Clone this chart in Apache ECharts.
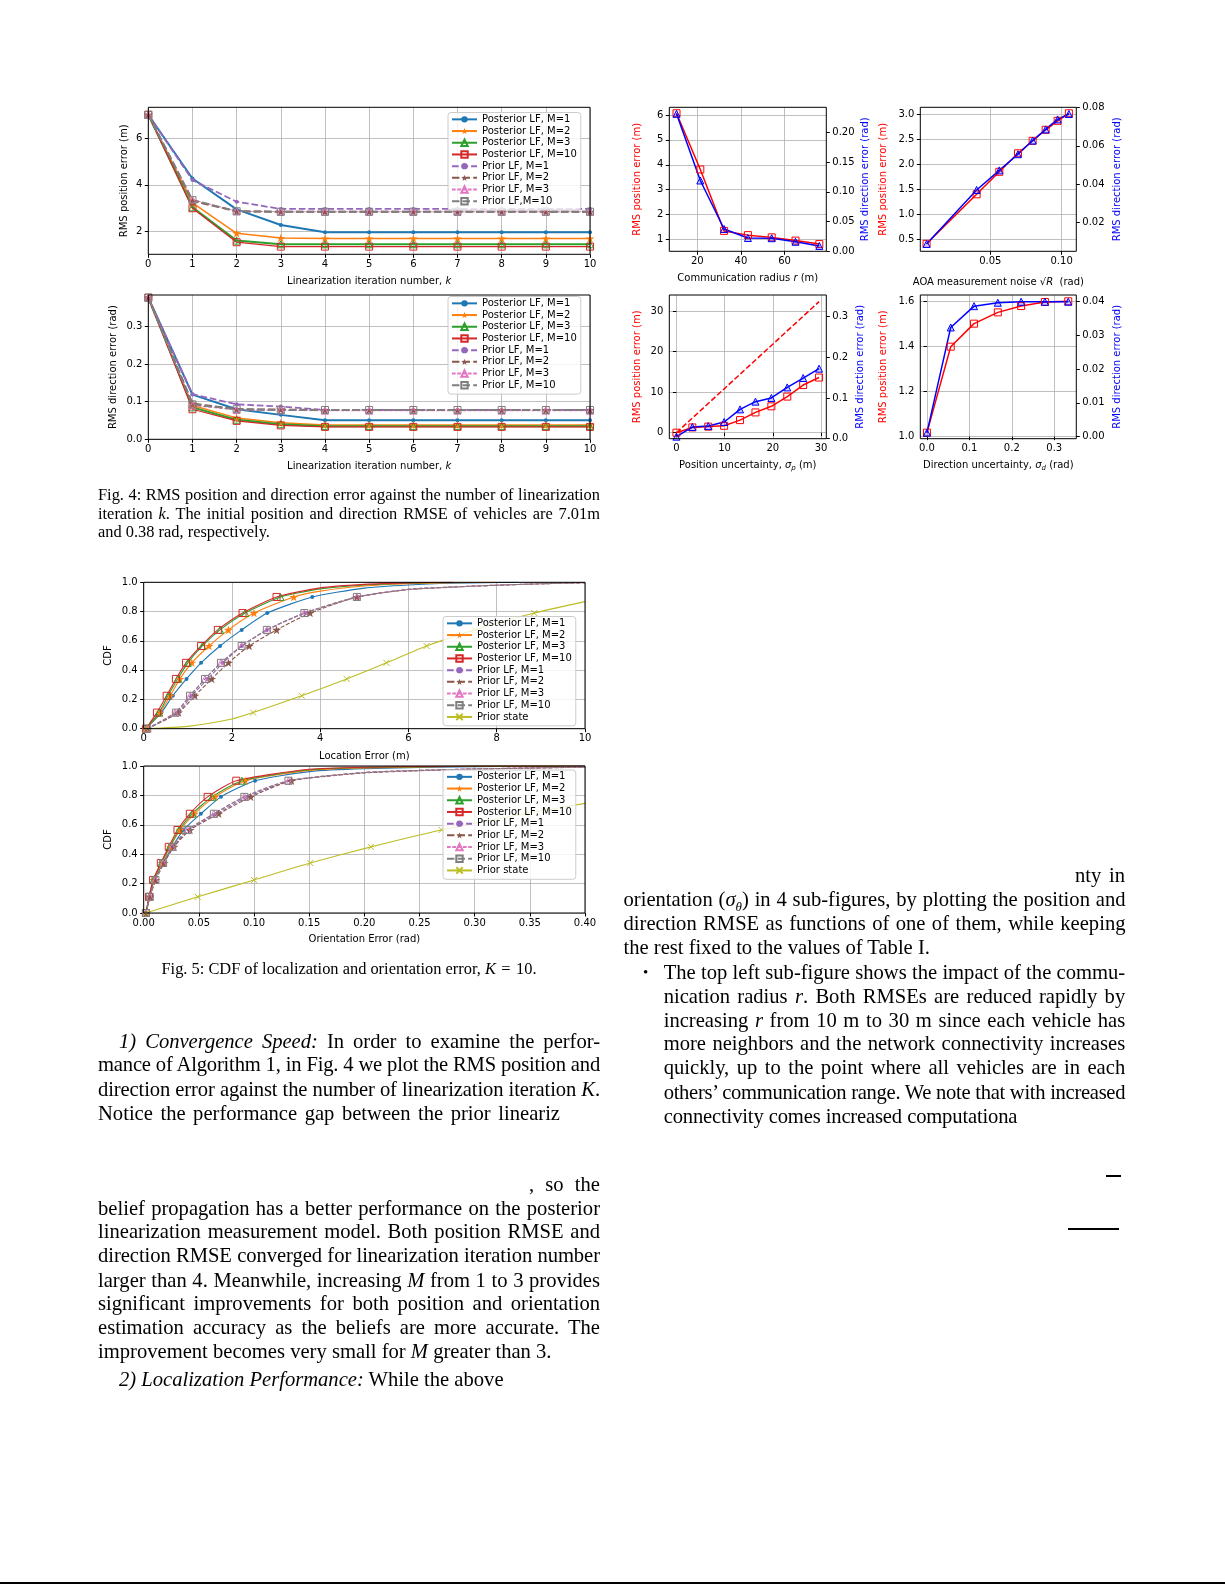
<!DOCTYPE html>
<html><head><meta charset="utf-8">
<script src="https://cdn.jsdelivr.net/npm/echarts@6/dist/echarts.min.js"></script>
<style>
html,body{margin:0;padding:0;background:#fff;}
#wrap{position:relative;width:1225px;height:1585px;overflow:hidden;background:#fff;}
#chart{position:absolute;left:0;top:0;width:1225px;height:1585px;}
.t{position:absolute;font-family:'Liberation Serif','Times New Roman',serif;font-size:20.6px;line-height:24px;white-space:nowrap;color:#000;}
.c{font-size:16.4px;line-height:18px;}
.j{text-align:justify;text-align-last:justify;}
.rule{position:absolute;background:#000;}
</style></head>
<body><div id="wrap"><div id="chart"></div>
<div class="t c j" style="left:98px;top:486px;width:502px">Fig. 4: RMS position and direction error against the number of linearization</div>
<div class="t c j" style="left:98px;top:504.5px;width:502px">iteration <i>k</i>. The initial position and direction RMSE of vehicles are 7.01m</div>
<div class="t c" style="left:98px;top:522.6px;">and 0.38 rad, respectively.</div>
<div class="t c" style="left:98px;top:960px;width:502px;text-align:center">Fig. 5: CDF of localization and orientation error, <i>K</i>&#8202; = &#8202;10.</div>

<div class="t j" style="left:119px;top:1029px;width:481px"><i>1) Convergence Speed:</i> In order to examine the perfor-</div>
<div class="t j" style="left:98px;top:1052px;width:502px">mance of Algorithm 1, in Fig. 4 we plot the RMS position and</div>
<div class="t j" style="left:98px;top:1076.5px;width:502px">direction error against the number of linearization iteration <i>K</i>.</div>
<div class="t j" style="left:98px;top:1101px;width:462px">Notice the performance gap between the prior lineariz</div>
<div class="t j" style="left:529px;top:1171.5px;width:71px">, so the</div>
<div class="t j" style="left:98px;top:1196px;width:502px">belief propagation has a better performance on the posterior</div>
<div class="t j" style="left:98px;top:1219px;width:502px">linearization measurement model. Both position RMSE and</div>
<div class="t j" style="left:98px;top:1243px;width:502px">direction RMSE converged for linearization iteration number</div>
<div class="t j" style="left:98px;top:1267.5px;width:502px">larger than 4. Meanwhile, increasing <i>M</i> from 1 to 3 provides</div>
<div class="t j" style="left:98px;top:1291px;width:502px">significant improvements for both position and orientation</div>
<div class="t j" style="left:98px;top:1315px;width:502px">estimation accuracy as the beliefs are more accurate. The</div>
<div class="t" style="left:98px;top:1339px;">improvement becomes very small for <i>M</i> greater than 3.</div>
<div class="t" style="left:119px;top:1366.6px;"><i>2) Localization Performance:</i> While the above</div>

<div class="t j" style="left:1075px;top:863px;width:50px">nty in</div>
<div class="t j" style="left:623.5px;top:886.5px;width:502px">orientation (<i>σ</i><sub style="font-size:13px;line-height:0"><i>θ</i></sub>) in 4 sub-figures, by plotting the position and</div>
<div class="t j" style="left:623.5px;top:910.8px;width:502px">direction RMSE as functions of one of them, while keeping</div>
<div class="t" style="left:623.5px;top:935px;">the rest fixed to the values of Table I.</div>
<div class="t" style="left:643px;top:960px;font-size:15px;">•</div>
<div class="t j" style="left:663.7px;top:960px;width:461.5px">The top left sub-figure shows the impact of the commu-</div>
<div class="t j" style="left:663.7px;top:983.6px;width:461.5px">nication radius <i>r</i>. Both RMSEs are reduced rapidly by</div>
<div class="t j" style="left:663.7px;top:1007.8px;width:461.5px">increasing <i>r</i> from 10 m to 30 m since each vehicle has</div>
<div class="t j" style="left:663.7px;top:1031px;width:461.5px">more neighbors and the network connectivity increases</div>
<div class="t j" style="left:663.7px;top:1055px;width:461.5px">quickly, up to the point where all vehicles are in each</div>
<div class="t j" style="left:663.7px;top:1079.6px;width:461.5px">others’ communication range. We note that with increased</div>
<div class="t j" style="left:663.7px;top:1103.8px;width:353.6px">connectivity comes increased computationa</div>
<div class="rule" style="left:1106px;top:1175px;width:14.7px;height:1.5px"></div>
<div class="rule" style="left:1067.7px;top:1228px;width:51px;height:1.5px"></div>
<div class="rule" style="left:0px;top:1582px;width:1225px;height:2px"></div>
</div>
<script>
// ---------------- DATA ----------------
const iters = [0,1,2,3,4,5,6,7,8,9,10];
const fig4aNames = ['Posterior LF, M=1','Posterior LF, M=2','Posterior LF, M=3','Posterior LF, M=10','Prior LF, M=1','Prior LF, M=2','Prior LF, M=3','Prior LF,M=10'];
const fig4bNames = ['Posterior LF, M=1','Posterior LF, M=2','Posterior LF, M=3','Posterior LF, M=10','Prior LF, M=1','Prior LF, M=2','Prior LF, M=3','Prior LF, M=10'];
const fig5Names = ['Posterior LF, M=1','Posterior LF, M=2','Posterior LF, M=3','Posterior LF, M=10','Prior LF, M=1','Prior LF, M=2','Prior LF, M=3','Prior LF, M=10','Prior state'];

// Fig 4 top: RMS position error (m)
const posPost1  = [7.01,4.27,2.94,2.27,1.96,1.96,1.96,1.96,1.96,1.96,1.96];
const posPost2  = [7.01,3.22,1.91,1.71,1.69,1.69,1.69,1.69,1.69,1.69,1.69];
const posPost3  = [7.01,3.03,1.60,1.44,1.44,1.44,1.44,1.44,1.44,1.44,1.44];
const posPost10 = [7.01,2.99,1.53,1.34,1.34,1.34,1.34,1.34,1.34,1.34,1.34];
const posPrior1 = [7.01,4.20,3.27,2.96,2.96,2.96,2.96,2.96,2.96,2.96,2.96];
const posPrior2 = [7.01,3.30,2.86,2.84,2.84,2.84,2.84,2.84,2.84,2.84,2.84];
const posPrior3 = [7.01,3.36,2.86,2.84,2.84,2.84,2.84,2.84,2.84,2.84,2.84];
const posPrior10= [7.01,3.34,2.86,2.84,2.84,2.84,2.84,2.84,2.84,2.84,2.84];
// Fig 4 bottom: RMS direction error (rad)
const dirPost1  = [0.377,0.119,0.080,0.065,0.051,0.051,0.051,0.051,0.051,0.051,0.051];
const dirPost2  = [0.377,0.090,0.057,0.044,0.038,0.038,0.038,0.038,0.038,0.038,0.038];
const dirPost3  = [0.377,0.085,0.052,0.040,0.035,0.035,0.035,0.035,0.035,0.035,0.035];
const dirPost10 = [0.377,0.080,0.049,0.037,0.033,0.033,0.033,0.033,0.033,0.033,0.033];
const dirPrior1 = [0.377,0.120,0.093,0.087,0.078,0.078,0.078,0.078,0.078,0.078,0.078];
const dirPrior2 = [0.377,0.095,0.080,0.079,0.078,0.078,0.078,0.078,0.078,0.078,0.078];
const dirPrior3 = [0.377,0.090,0.078,0.077,0.076,0.076,0.076,0.076,0.076,0.076,0.076];
const dirPrior10= [0.377,0.093,0.080,0.078,0.078,0.078,0.078,0.078,0.078,0.078,0.078];

// Fig 5: CDF levels where markers sit, and error values at those levels
const cdfLevels = [0, 0.11, 0.225, 0.34, 0.45, 0.565, 0.675, 0.79, 0.9];
const locPost1   = [0.05,0.40,0.66,0.97,1.30,1.73,2.22,2.80,3.82];
const locPost2   = [0.05,0.37,0.60,0.82,1.09,1.48,1.92,2.50,3.40];
const locPost3   = [0.05,0.35,0.55,0.77,1.00,1.33,1.73,2.30,3.10];
const locPost10  = [0.05,0.30,0.52,0.73,0.96,1.30,1.68,2.24,3.01];
const locPrior1  = [0.08,0.77,1.09,1.45,1.80,2.22,2.79,3.66,4.86];
const locPrior2  = [0.08,0.79,1.16,1.54,1.92,2.39,3.01,3.77,4.83];
const locPrior3  = [0.08,0.71,1.05,1.39,1.75,2.22,2.80,3.64,4.83];
const locPrior10 = [0.08,0.73,1.05,1.39,1.75,2.22,2.79,3.64,4.83];
const locPriorState = [0.05,2.48,3.58,4.60,5.50,6.41,7.50,8.85];
// extra curve points (error, CDF) read between/after markers
const locPost1Extra   = [[5,0.96],[6,0.982],[7,0.993],[8.5,1.0]];
const locPost2Extra   = [[4,0.94],[5,0.975],[6,0.99],[7,0.997],[8,1.0]];
const locPost3Extra   = [[4,0.955],[5,0.982],[6,0.994],[7,1.0]];
const locPost10Extra  = [[4,0.962],[5,0.986],[6,0.996],[7,1.0]];
const locPrior1Extra  = [[6,0.952],[7,0.968],[8,0.98],[9,0.99],[10,0.997]];
const locPrior2Extra  = [[6,0.95],[7,0.967],[8,0.98],[9,0.99],[10,0.997]];
const locPrior3Extra  = [[6,0.952],[7,0.968],[8,0.98],[9,0.99],[10,0.997]];
const locPrior10Extra = [[6,0.952],[7,0.968],[8,0.98],[9,0.99],[10,0.997]];
const locPriorStateExtra = [[1,0.016],[2,0.066],[10,0.868]];

const oriPost1   = [0.002,0.0055,0.0095,0.0175,0.026,0.036,0.0518,0.070,0.101];
const oriPost2   = [0.002,0.0052,0.0090,0.0165,0.024,0.033,0.046,0.0645,0.092];
const oriPost3   = [0.002,0.0050,0.0088,0.0160,0.0235,0.032,0.044,0.062,0.089];
const oriPost10  = [0.002,0.0048,0.0085,0.0155,0.0227,0.0306,0.0418,0.0579,0.0839];
const oriPrior1  = [0.002,0.0055,0.0105,0.018,0.027,0.041,0.066,0.094,0.133];
const oriPrior2  = [0.002,0.0057,0.011,0.0185,0.0275,0.042,0.068,0.097,0.134];
const oriPrior3  = [0.002,0.0055,0.0106,0.0176,0.0258,0.0397,0.0636,0.0912,0.1312];
const oriPrior10 = [0.002,0.0055,0.0106,0.0176,0.0258,0.0397,0.0636,0.0912,0.1312];
const oriPriorState = [0.002,0.049,0.100,0.151,0.206,0.270,0.346];
const oriPost1Extra   = [[0.15,0.962],[0.2,0.982],[0.3,0.996],[0.4,1.0]];
const oriPost2Extra   = [[0.15,0.97],[0.2,0.987],[0.3,0.998],[0.4,1.0]];
const oriPost3Extra   = [[0.15,0.974],[0.2,0.99],[0.3,0.999],[0.4,1.0]];
const oriPost10Extra  = [[0.15,0.978],[0.2,0.992],[0.3,1.0],[0.4,1.0]];
const oriPrior1Extra  = [[0.2,0.955],[0.25,0.97],[0.3,0.98],[0.4,0.993]];
const oriPrior2Extra  = [[0.2,0.953],[0.25,0.968],[0.3,0.979],[0.4,0.992]];
const oriPrior3Extra  = [[0.2,0.956],[0.25,0.97],[0.3,0.98],[0.4,0.993]];
const oriPrior10Extra = [[0.2,0.956],[0.25,0.97],[0.3,0.98],[0.4,0.993]];
const oriPriorStateExtra = [[0.4,0.746]];

// Right column sub-figures
const radius      = [10.5,21.4,32.3,43.2,54.1,65.0,75.9];
const radiusPos   = [6.07,3.81,1.34,1.17,1.08,0.95,0.81];
const radiusDir   = [0.231,0.119,0.0375,0.0224,0.022,0.016,0.009];
const aoaNoise    = [0.0053,0.0404,0.0563,0.0694,0.0797,0.0888,0.0972,0.1051];
const aoaPos      = [0.41,1.40,1.85,2.22,2.47,2.69,2.87,3.02];
const aoaDir      = [0.0089,0.037,0.0472,0.0556,0.0627,0.0685,0.0737,0.0765];
const sigmaP      = [0,3.3,6.6,9.9,13.2,16.4,19.7,23.0,26.3,29.6];
const sigmaPPos   = [0,1.3,1.5,1.7,3.1,5.0,6.5,8.9,11.75,13.6];
const sigmaPDir   = [0.005,0.0287,0.031,0.041,0.072,0.091,0.100,0.126,0.149,0.172];
const sigmaPPriorX = [0,29.6];
const sigmaPPriorY = [0,32.3];
const sigmaD      = [0,0.056,0.111,0.167,0.222,0.278,0.333];
const sigmaDPos   = [1.018,1.399,1.501,1.551,1.579,1.597,1.600];
const sigmaDDir   = [0.0012,0.0323,0.0386,0.0396,0.0399,0.0399,0.0399];

// Tick values
const ticksIter = [0,1,2,3,4,5,6,7,8,9,10];
const ticksPos4 = [2,4,6];
const ticksDir4 = [0,0.1,0.2,0.3];
const ticksCdf = [0,0.2,0.4,0.6,0.8,1.0];
const ticksLoc = [0,2,4,6,8,10];
const ticksOri = [0,0.05,0.1,0.15,0.2,0.25,0.3,0.35,0.4];
const ticksRadX = [20,40,60];
const ticksRadL = [1,2,3,4,5,6];
const ticksRadR = [0,0.05,0.1,0.15,0.2];
const ticksAoaX = [0.05,0.1];
const ticksAoaL = [0.5,1.0,1.5,2.0,2.5,3.0];
const ticksAoaR = [0.02,0.04,0.06,0.08];
const ticksSpX = [0,10,20,30];
const ticksSpL = [0,10,20,30];
const ticksSpR = [0,0.1,0.2,0.3];
const ticksSdX = [0,0.1,0.2,0.3];
const ticksSdL = [1.0,1.2,1.4,1.6];
const ticksSdR = [0,0.01,0.02,0.03,0.04];

// ---------------- STYLE ----------------
const FONT = 'DejaVu Sans';
const COL = {blue:'#1f77b4',orange:'#ff7f0e',green:'#2ca02c',red:'#d62728',purple:'#9467bd',brown:'#8c564b',pink:'#e377c2',gray:'#7f7f7f',olive:'#bcbd22'};
const STAR = 'path://M50,0L61.2,34.5L97.6,34.5L68.2,55.9L79.4,90.5L50,69.1L20.6,90.5L31.8,55.9L2.4,34.5L38.8,34.5Z';
const XMARK = 'path://M0,0L10,10M10,0L0,10';
const KIND = {
  post1:{c:COL.blue,sym:'circle',size:4,fill:true,dash:false},
  post2:{c:COL.orange,sym:STAR,size:9,fill:true,dash:false},
  post3:{c:COL.green,sym:'triangle',size:7,fill:false,dash:false},
  post10:{c:COL.red,sym:'rect',size:7,fill:false,dash:false},
  prior1:{c:COL.purple,sym:'circle',size:4,fill:true,dash:true},
  prior2:{c:COL.brown,sym:STAR,size:9,fill:true,dash:true},
  prior3:{c:COL.pink,sym:'triangle',size:7,fill:false,dash:true},
  prior10:{c:COL.gray,sym:'rect',size:7,fill:false,dash:true},
  pstate:{c:COL.olive,sym:XMARK,size:6,fill:false,dash:false}
};
function lineSeries(name, gi, data, kind, width, smooth) {
  const k = KIND[kind];
  return {
    type:'line', name:name, xAxisIndex:gi, yAxisIndex:gi, data:data,
    symbol:k.sym, symbolSize:k.size, showSymbol:true, showAllSymbol:true, symbolKeepAspect:true,
    smooth: smooth ? 0.2 : false,
    lineStyle:{color:k.c, width:width, type: k.dash ? [width*3.7, width*1.6] : 'solid'},
    itemStyle:{color: k.fill ? k.c : 'rgba(255,255,255,0)', borderColor:k.c, borderWidth: k.fill ? 0 : 1},
    emphasis:{disabled:true}, silent:true, animation:false, z:2
  };
}
function zipPts(xs, ys){ return xs.map((x,i)=>({value:[x,ys[i]]})); }
function cdfPts(xs, extra){
  const pts = xs.map((x,i)=>({value:[x, cdfLevels[i]]}));
  extra.forEach(p=>pts.push({value:[p[0],p[1]], symbol:'none'}));
  pts.sort((a,b)=>a.value[0]-b.value[0]);
  return pts;
}
const RICH = {
  i:{fontStyle:'italic',fontSize:10,fontFamily:FONT},
  s:{fontStyle:'italic',fontSize:7,fontFamily:FONT,verticalAlign:'bottom'}
};
function nts(color){ return {fontSize:10,fontFamily:FONT,color:color||'#000',lineHeight:13,rich:RICH}; }
function mkAxis(dim, gi, min, max, ticks, dec, extra) {
  const a = {
    type:'value', gridIndex:gi, min:min, max:max,
    axisLine:{show:false},
    axisTick:{show:true, inside:false, length:3.5, customValues:ticks, lineStyle:{color:'#000',width:1}},
    axisLabel:{show:true, customValues:ticks, formatter:(v)=>Number(v).toFixed(dec), fontSize:10, fontFamily:FONT, color:'#000', margin: dim==='x'?5:6},
    splitLine:{show:true, lineStyle:{color:'#b0b0b0', width:0.8}},
    nameLocation:'middle', nameTextStyle:nts('#000')
  };
  return Object.assign(a, extra||{});
}
const gridBase = {show:true, borderColor:'#000', borderWidth:1, backgroundColor:'rgba(0,0,0,0)', z:3, containLabel:false};
const grids = [
  Object.assign({left:148.3, top:107.3, width:441.7, height:147}, gridBase),
  Object.assign({left:148.3, top:295, width:441.7, height:144.3}, gridBase),
  Object.assign({left:143.7, top:582.3, width:441.3, height:146.4}, gridBase),
  Object.assign({left:143.7, top:766, width:441.3, height:147}, gridBase),
  Object.assign({left:669.3, top:107.3, width:157, height:144}, gridBase),
  Object.assign({left:920.3, top:107.3, width:156, height:144}, gridBase),
  Object.assign({left:669.3, top:295, width:157, height:143.7}, gridBase),
  Object.assign({left:920.3, top:295, width:156, height:143.7}, gridBase)
];
const xAxes = [
  mkAxis('x',0,0,10,ticksIter,0,{name:'Linearization iteration number, {i|k}', nameGap:21}),
  mkAxis('x',1,0,10,ticksIter,0,{name:'Linearization iteration number, {i|k}', nameGap:21}),
  mkAxis('x',2,0,10,ticksLoc,0,{name:'Location Error (m)', nameGap:21}),
  mkAxis('x',3,0,0.4,ticksOri,2,{name:'Orientation Error (rad)', nameGap:20}),
  mkAxis('x',4,7.2,79.1,ticksRadX,0,{name:'Communication radius {i|r} (m)', nameGap:21}),
  mkAxis('x',5,0.0009,0.1103,ticksAoaX,2,{name:'AOA measurement noise √{i|R}  (rad)', nameGap:25}),
  mkAxis('x',6,-1.48,31.1,ticksSpX,0,{name:'Position uncertainty, {i|σ}{s|p} (m)', nameGap:20}),
  mkAxis('x',7,-0.0157,0.352,ticksSdX,1,{name:'Direction uncertainty, {i|σ}{s|d} (rad)', nameGap:20})
];
const noSplit = {show:false};
const yAxes = [
  mkAxis('y',0,1.01,7.33,ticksPos4,0,{name:'RMS position error (m)', nameGap:17}),
  mkAxis('y',1,0,0.384,ticksDir4,1,{name:'RMS direction error (rad)', nameGap:28}),
  mkAxis('y',2,0,1,ticksCdf,1,{name:'CDF', nameGap:28.5}),
  mkAxis('y',3,0,1,ticksCdf,1,{name:'CDF', nameGap:28.5}),
  mkAxis('y',4,0.52,6.31,ticksRadL,0,{name:'RMS position error (m)', nameGap:25, nameTextStyle:nts('#ff0000')}),
  mkAxis('y',4,0,0.242,ticksRadR,2,{position:'right', splitLine:noSplit, name:'RMS direction error (rad)', nameGap:33, nameTextStyle:nts('#0000ff')}),
  mkAxis('y',5,0.26,3.14,ticksAoaL,1,{name:'RMS position error (m)', nameGap:30, nameTextStyle:nts('#ff0000')}),
  mkAxis('y',5,0.0051,0.08,ticksAoaR,2,{position:'right', splitLine:noSplit, name:'RMS direction error (rad)', nameGap:34.5, nameTextStyle:nts('#0000ff')}),
  mkAxis('y',6,-1.48,33.94,ticksSpL,0,{name:'RMS position error (m)', nameGap:25, nameTextStyle:nts('#ff0000')}),
  mkAxis('y',6,0,0.353,ticksSpR,1,{position:'right', splitLine:noSplit, name:'RMS direction error (rad)', nameGap:27.5, nameTextStyle:nts('#0000ff')}),
  mkAxis('y',7,0.991,1.628,ticksSdL,1,{name:'RMS position error (m)', nameGap:30, nameTextStyle:nts('#ff0000')}),
  mkAxis('y',7,-0.0006,0.0419,ticksSdR,2,{position:'right', splitLine:noSplit, name:'RMS direction error (rad)', nameGap:34.5, nameTextStyle:nts('#0000ff')})
];

const series = [];
// Fig 4 top
[[posPost1,'post1',2],[posPost2,'post2',1.5],[posPost3,'post3',2],[posPost10,'post10',1.2],
 [posPrior1,'prior1',1.8],[posPrior2,'prior2',2],[posPrior3,'prior3',1],[posPrior10,'prior10',2]]
 .forEach((d,i)=>series.push(lineSeries(fig4aNames[i],0,zipPts(iters,d[0]),d[1],d[2],false)));
// Fig 4 bottom
[[dirPost1,'post1',2],[dirPost2,'post2',1.5],[dirPost3,'post3',2],[dirPost10,'post10',1.2],
 [dirPrior1,'prior1',1.8],[dirPrior2,'prior2',2],[dirPrior3,'prior3',1],[dirPrior10,'prior10',2]]
 .forEach((d,i)=>series.push(lineSeries(fig4bNames[i],1,zipPts(iters,d[0]),d[1],d[2],false)));
// Fig 5 top
[[locPost1,locPost1Extra,'post1'],[locPost2,locPost2Extra,'post2'],[locPost3,locPost3Extra,'post3'],[locPost10,locPost10Extra,'post10'],
 [locPrior1,locPrior1Extra,'prior1'],[locPrior2,locPrior2Extra,'prior2'],[locPrior3,locPrior3Extra,'prior3'],[locPrior10,locPrior10Extra,'prior10'],
 [locPriorState,locPriorStateExtra,'pstate']]
 .forEach((d,i)=>series.push(lineSeries(fig5Names[i],2,cdfPts(d[0],d[1]),d[2],1.1,true)));
// Fig 5 bottom
[[oriPost1,oriPost1Extra,'post1'],[oriPost2,oriPost2Extra,'post2'],[oriPost3,oriPost3Extra,'post3'],[oriPost10,oriPost10Extra,'post10'],
 [oriPrior1,oriPrior1Extra,'prior1'],[oriPrior2,oriPrior2Extra,'prior2'],[oriPrior3,oriPrior3Extra,'prior3'],[oriPrior10,oriPrior10Extra,'prior10'],
 [oriPriorState,oriPriorStateExtra,'pstate']]
 .forEach((d,i)=>series.push(lineSeries(fig5Names[i],3,cdfPts(d[0],d[1]),d[2],1.1,true)));

function rs(name, xi, yi, xs, ys, color, sym, fill, dashed) {
  return {
    type:'line', name:name, xAxisIndex:xi, yAxisIndex:yi, data:zipPts(xs,ys),
    symbol: sym || 'none', symbolSize:7, showSymbol: !!sym, showAllSymbol:true,
    lineStyle:{color:color, width:1.5, type: dashed ? [5.5,2.4] : 'solid'},
    itemStyle:{color:fill, borderColor:color, borderWidth:1},
    emphasis:{disabled:true}, silent:true, animation:false, z:2
  };
}
const RED='#ff0000', BLUE='#0000ff', RF='rgba(255,255,255,0)', BF='rgba(0,0,255,0.2)';
series.push(rs('radius position',4,4,radius,radiusPos,RED,'rect',RF));
series.push(rs('radius direction',4,5,radius,radiusDir,BLUE,'triangle',BF));
series.push(rs('aoa position',5,6,aoaNoise,aoaPos,RED,'rect',RF));
series.push(rs('aoa direction',5,7,aoaNoise,aoaDir,BLUE,'triangle',BF));
series.push(rs('prior position',6,8,sigmaPPriorX,sigmaPPriorY,RED,null,RF,true));
series.push(rs('sigma_p position',6,8,sigmaP,sigmaPPos,RED,'rect',RF));
series.push(rs('sigma_p direction',6,9,sigmaP,sigmaPDir,BLUE,'triangle',BF));
series.push(rs('sigma_d position',7,10,sigmaD,sigmaDPos,RED,'rect',RF));
series.push(rs('sigma_d direction',7,11,sigmaD,sigmaDDir,BLUE,'triangle',BF));

const legendBase = {
  orient:'vertical', itemWidth:25, itemHeight:8, itemGap:0, padding:[1,4,3,3],
  backgroundColor:'rgba(255,255,255,0.8)', borderColor:'#cccccc', borderWidth:1, borderRadius:3,
  textStyle:{fontSize:10, fontFamily:FONT, color:'#000', lineHeight:11.7}, selectedMode:false, z:5
};
const legends = [
  Object.assign({left:448, top:112.5, data:fig4aNames}, legendBase),
  Object.assign({left:448, top:296.5, data:fig4bNames}, legendBase),
  Object.assign({left:443, top:616.5, data:fig5Names}, legendBase),
  Object.assign({left:443, top:770, data:fig5Names}, legendBase)
];

const chart = echarts.init(document.getElementById('chart'), null, {renderer:'canvas'});
chart.setOption({
  animation:false, backgroundColor:'#fff',
  textStyle:{fontFamily:FONT},
  grid:grids, xAxis:xAxes, yAxis:yAxes, legend:legends, series:series
});

// tighten letter spacing on justified lines whose natural width exceeds their box
document.querySelectorAll('.j').forEach(el => {
  const span = document.createElement('span');
  while (el.firstChild) span.appendChild(el.firstChild);
  el.appendChild(span);
  const w = span.getBoundingClientRect().width;
  const target = el.clientWidth;
  if (w > target) {
    const n = span.textContent.length || 1;
    el.style.letterSpacing = (-(w - target + 1) / n) + 'px';
  }
});
</script>
</body></html>
